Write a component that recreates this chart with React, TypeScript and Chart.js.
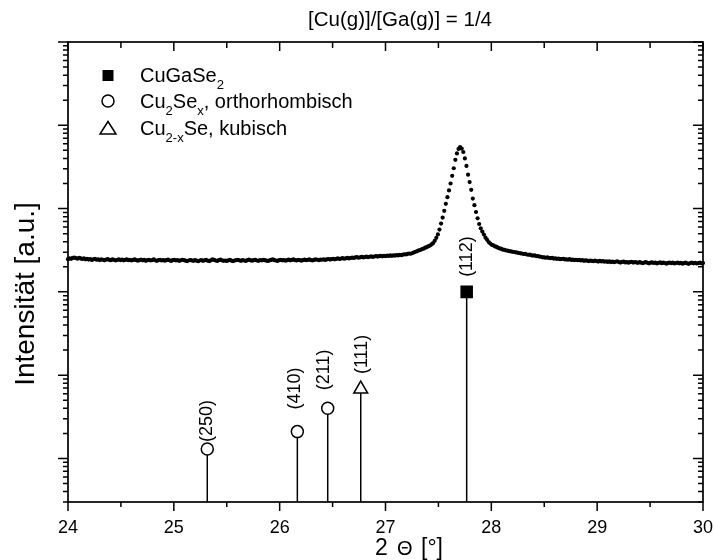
import React, { useEffect, useRef } from "react";
import { Chart, registerables } from "chart.js";

Chart.register(...registerables);

// ---- axis ranges and labels ----
const TITLE = "[Cu(g)]/[Ga(g)] = 1/4";
const X_TITLE_PARTS = ["2", "\u0398", "[\u00b0]"];
const Y_TITLE = "Intensit\u00e4t [a.u.]";
const X_MIN = 24;
const X_MAX = 30;
const Y_MIN = 3;
const Y_MAX = 1e6;
const X_TICKS = [24, 25, 26, 27, 28, 29, 30];

// ---- measured scan (2Θ from 24° to 30°, step 0.015°) ----
const SCAN_START = 24;
const SCAN_STEP = 0.015;
const SCAN_COUNTS = [
  2470, 2530, 2490, 2560, 2580, 2540, 2500, 2570, 2520, 2480, 2530, 2460, 2500, 2440, 2470, 2420, 2460, 2490, 2430, 2450,
  2410, 2460, 2430, 2390, 2440, 2470, 2420, 2400, 2450, 2430, 2380, 2420, 2460, 2410, 2440, 2390, 2420, 2450, 2400, 2430,
  2380, 2420, 2450, 2400, 2370, 2410, 2440, 2390, 2420, 2360, 2400, 2430, 2380, 2410, 2450, 2390, 2360, 2400, 2420, 2380,
  2410, 2370, 2400, 2440, 2390, 2350, 2400, 2420, 2380, 2410, 2360, 2390, 2430, 2400, 2370, 2340, 2380, 2410, 2390, 2360,
  2400, 2370, 2330, 2380, 2410, 2360, 2390, 2420, 2370, 2340, 2390, 2460, 2420, 2380, 2350, 2400, 2440, 2390, 2360, 2380,
  2350, 2390, 2420, 2370, 2340, 2380, 2400, 2430, 2390, 2360, 2400, 2380, 2350, 2410, 2440, 2390, 2370, 2400, 2430, 2380,
  2360, 2410, 2390, 2430, 2400, 2370, 2350, 2390, 2420, 2450, 2400, 2380, 2350, 2400, 2430, 2390, 2410, 2370, 2400, 2440,
  2390, 2420, 2460, 2410, 2380, 2430, 2400, 2370, 2410, 2440, 2400, 2420, 2450, 2410, 2380, 2420, 2460, 2430, 2400, 2440,
  2430, 2460, 2420, 2450, 2480, 2440, 2470, 2500, 2460, 2490, 2520, 2480, 2510, 2540, 2500, 2530, 2560, 2520, 2550, 2580,
  2550, 2590, 2610, 2570, 2600, 2630, 2590, 2620, 2650, 2610, 2640, 2670, 2630, 2660, 2690, 2650, 2680, 2700, 2670, 2710,
  2690, 2720, 2700, 2740, 2710, 2750, 2730, 2760, 2740, 2780, 2760, 2800, 2830, 2810, 2860, 2890, 2870, 2930, 2980, 3030,
  3090, 3150, 3180, 3260, 3300, 3390, 3440, 3540, 3600, 3710, 3850, 4100, 4450, 4900, 5600, 6600, 7800, 9400, 11400, 13700,
  16500, 20000, 24700, 30500, 38500, 46000, 52000, 54900, 52500, 47800, 40000, 32500, 25500, 20800, 16800, 13200, 11000, 9100, 7640, 6530,
  5800, 5300, 4870, 4470, 4210, 3960, 3800, 3670, 3610, 3510, 3460, 3370, 3320, 3280, 3210, 3200, 3140, 3130, 3080, 3070,
  3030, 3010, 2980, 2960, 2930, 2900, 2890, 2850, 2860, 2810, 2790, 2800, 2750, 2730, 2740, 2690, 2680, 2650, 2640, 2600,
  2590, 2570, 2600, 2550, 2540, 2560, 2510, 2520, 2490, 2510, 2470, 2480, 2500, 2450, 2460, 2430, 2470, 2420, 2440, 2410,
  2430, 2400, 2420, 2380, 2410, 2360, 2390, 2370, 2340, 2380, 2350, 2330, 2370, 2340, 2310, 2350, 2320, 2340, 2300, 2330,
  2290, 2320, 2280, 2310, 2270, 2300, 2330, 2280, 2250, 2290, 2310, 2260, 2280, 2240, 2270, 2300, 2250, 2280, 2260, 2230,
  2270, 2240, 2210, 2250, 2280, 2230, 2200, 2240, 2260, 2220, 2250, 2190, 2230, 2260, 2210, 2240, 2220, 2180, 2230, 2250,
  2210, 2240, 2190, 2220, 2250, 2200, 2230, 2180, 2210, 2240, 2200, 2170, 2220, 2250, 2200, 2230, 2190, 2210, 2240, 2200,
  2220,
];

// ---- reference reflections (position in °2Θ, relative intensity, hkl) ----
const CGS_POS = [27.767];
const CGS_INT = [1000];
const CGS_HKL = ["(112)"];

const ORTHO_POS = [25.316, 26.167, 26.454];
const ORTHO_INT = [13, 21, 40];
const ORTHO_HKL = ["(250)", "(410)", "(211)"];

const CUBIC_POS = [26.766];
const CUBIC_INT = [68];
const CUBIC_HKL = ["(111)"];

const LEGEND_TEXT = ["CuGaSe_{2}", "Cu_{2}Se_{x}, orthorhombisch", "Cu_{2-x}Se, kubisch"];

const FONT = "'Liberation Sans', Arial, Helvetica, sans-serif";

type Marker = "square" | "circle" | "triangle";

function drawMarker(ctx: CanvasRenderingContext2D, kind: Marker, x: number, y: number) {
  ctx.save();
  ctx.strokeStyle = "#000";
  ctx.lineWidth = 1.5;
  if (kind === "square") {
    ctx.fillStyle = "#000";
    ctx.fillRect(x - 5.5, y - 5.5, 11, 11);
  } else if (kind === "circle") {
    ctx.fillStyle = "#fff";
    ctx.beginPath();
    ctx.arc(x, y, 6, 0, Math.PI * 2);
    ctx.fill();
    ctx.stroke();
  } else {
    ctx.fillStyle = "#fff";
    ctx.beginPath();
    ctx.moveTo(x, y - 6.5);
    ctx.lineTo(x + 8, y + 6);
    ctx.lineTo(x - 8, y + 6);
    ctx.closePath();
    ctx.fill();
    ctx.stroke();
  }
  ctx.restore();
}

function drawRich(ctx: CanvasRenderingContext2D, text: string, x: number, y: number, size: number, subSize: number) {
  const parts = text.split(/_\{([^}]*)\}/);
  let cx = x;
  parts.forEach((p, i) => {
    if (!p) return;
    const sub = i % 2 === 1;
    ctx.font = `${sub ? subSize : size}px ${FONT}`;
    ctx.fillText(p, cx, sub ? y + 7 : y);
    cx += ctx.measureText(p).width;
  });
}

type StickLabel = { pos: number; val: number; text: string; dx: number; dy: number };

const axesPlugin = {
  id: "xrdFrame",
  afterDatasetsDraw(chart: any) {
    const { ctx, chartArea: a, scales } = chart;
    const xs = scales.x;
    const ys = scales.y;
    ctx.save();
    ctx.strokeStyle = "#000";
    ctx.fillStyle = "#000";

    // frame
    ctx.lineWidth = 1.7;
    ctx.strokeRect(a.left, a.top, a.right - a.left, a.bottom - a.top);

    // x ticks (bottom outward, top inward)
    ctx.lineWidth = 1.5;
    ctx.beginPath();
    for (let k = 0; k <= (X_MAX - X_MIN) * 2; k++) {
      const v = X_MIN + k * 0.5;
      const px = xs.getPixelForValue(v);
      const major = k % 2 === 0;
      ctx.moveTo(px, a.bottom);
      ctx.lineTo(px, a.bottom + (major ? 9 : 5));
      ctx.moveTo(px, a.top);
      ctx.lineTo(px, a.top + (major ? 9 : 6));
    }
    // y ticks (log decades, left outward, right inward)
    const e0 = Math.floor(Math.log10(Y_MIN));
    const e1 = Math.ceil(Math.log10(Y_MAX));
    for (let e = e0; e <= e1; e++) {
      for (let m = 1; m <= 9; m++) {
        const v = m * Math.pow(10, e);
        if (v < Y_MIN * 0.999 || v > Y_MAX * 1.001) continue;
        const py = ys.getPixelForValue(v);
        const len = m === 1 ? 10 : 5;
        ctx.moveTo(a.left - len, py);
        ctx.lineTo(a.left, py);
        ctx.moveTo(a.right - len, py);
        ctx.lineTo(a.right, py);
      }
    }
    ctx.stroke();

    // x tick labels
    ctx.font = `18px ${FONT}`;
    ctx.textAlign = "center";
    ctx.textBaseline = "alphabetic";
    X_TICKS.forEach((t) => ctx.fillText(String(t), xs.getPixelForValue(t), a.bottom + 31));

    // x title
    ctx.textAlign = "left";
    ctx.font = `23px ${FONT}`;
    ctx.fillText(X_TITLE_PARTS[0], 375, 555);
    ctx.font = `20px ${FONT}`;
    ctx.fillText(X_TITLE_PARTS[1], 397, 555);
    ctx.font = `23px ${FONT}`;
    ctx.fillText(X_TITLE_PARTS[2], 421, 555);

    // y title
    ctx.save();
    ctx.translate(34, 294);
    ctx.rotate(-Math.PI / 2);
    ctx.textAlign = "center";
    ctx.font = `28px ${FONT}`;
    ctx.fillText(Y_TITLE, 0, 0);
    ctx.restore();

    // chart title
    ctx.textAlign = "center";
    ctx.font = `20.5px ${FONT}`;
    ctx.fillText(TITLE, 400, 26);

    // legend
    ctx.textAlign = "left";
    const kinds: Marker[] = ["square", "circle", "triangle"];
    const rowsY = [82, 107.5, 134.5];
    LEGEND_TEXT.forEach((t, i) => {
      drawMarker(ctx, kinds[i], 108, rowsY[i] - 6.5);
      drawRich(ctx, t, 140, rowsY[i], 20, 13);
    });

    // hkl labels above each reflection
    const labels: StickLabel[] = chart.options.plugins.xrdFrame.labels;
    ctx.font = `18px ${FONT}`;
    ctx.textAlign = "left";
    ctx.textBaseline = "middle";
    labels.forEach((l) => {
      const px = xs.getPixelForValue(l.pos) + l.dx;
      const py = ys.getPixelForValue(l.val) - l.dy;
      ctx.save();
      ctx.translate(px, py);
      ctx.rotate(-Math.PI / 2);
      ctx.fillText(l.text, 0, 0);
      ctx.restore();
    });

    ctx.restore();
  },
};

function stickSet(pos: number, val: number, kind: Marker) {
  const style =
    kind === "square"
      ? { pointStyle: "rect", radius: 7.8, bg: "#000" }
      : kind === "circle"
      ? { pointStyle: "circle", radius: 6, bg: "#fff" }
      : { pointStyle: "triangle", radius: 8, bg: "#fff" };
  return {
    type: "line" as const,
    data: [
      { x: pos, y: Y_MIN },
      { x: pos, y: val },
    ],
    showLine: true,
    borderColor: "#000",
    borderWidth: 1.5,
    pointRadius: [0, style.radius],
    pointStyle: style.pointStyle,
    pointBackgroundColor: style.bg,
    pointBorderColor: "#000",
    pointBorderWidth: 1.5,
    clip: false,
  };
}

export default function App() {
  const canvasRef = useRef<HTMLCanvasElement | null>(null);

  useEffect(() => {
    const canvas = canvasRef.current;
    if (!canvas) return;

    const scan = SCAN_COUNTS.map((c, i) => ({ x: SCAN_START + i * SCAN_STEP, y: c }));

    const datasets: any[] = [
      {
        type: "scatter",
        data: scan,
        showLine: false,
        pointRadius: 2.1,
        pointBorderWidth: 0,
        pointBackgroundColor: "#000",
        pointBorderColor: "#000",
        clip: false,
      },
    ];
    const labels: StickLabel[] = [];
    CGS_POS.forEach((p, i) => {
      datasets.push(stickSet(p, CGS_INT[i], "square"));
      labels.push({ pos: p, val: CGS_INT[i], text: CGS_HKL[i], dx: 0, dy: 15 });
    });
    const orthoOffsets = [
      [0, 7],
      [-2.5, 22],
      [-4, 18],
    ];
    ORTHO_POS.forEach((p, i) => {
      datasets.push(stickSet(p, ORTHO_INT[i], "circle"));
      labels.push({ pos: p, val: ORTHO_INT[i], text: ORTHO_HKL[i], dx: orthoOffsets[i][0], dy: orthoOffsets[i][1] });
    });
    CUBIC_POS.forEach((p, i) => {
      datasets.push(stickSet(p, CUBIC_INT[i], "triangle"));
      labels.push({ pos: p, val: CUBIC_INT[i], text: CUBIC_HKL[i], dx: 1, dy: 15 });
    });

    const chart = new Chart(canvas, {
      type: "scatter",
      data: { datasets },
      options: {
        responsive: false,
        animation: false,
        events: [],
        layout: { autoPadding: false, padding: { left: 68, right: 11, top: 42, bottom: 58 } },
        scales: {
          x: { type: "linear", min: X_MIN, max: X_MAX, display: false },
          y: { type: "logarithmic", min: Y_MIN, max: Y_MAX, display: false },
        },
        plugins: {
          legend: { display: false },
          tooltip: { enabled: false },
          xrdFrame: { labels },
        } as any,
      },
      plugins: [axesPlugin],
    });

    return () => chart.destroy();
  }, []);

  return (
    <canvas
      ref={canvasRef}
      width={714}
      height={560}
      style={{ position: "absolute", left: 0, top: 0, display: "block", background: "#fff" }}
    />
  );
}
